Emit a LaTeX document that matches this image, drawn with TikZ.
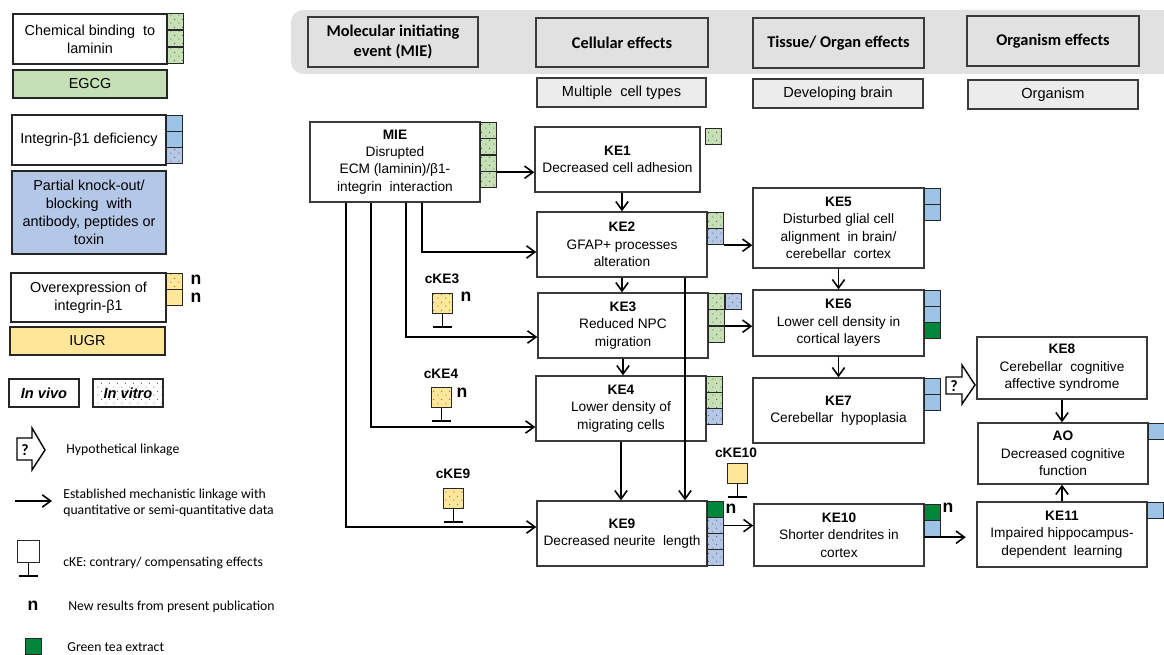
\documentclass[tikz,border=0pt]{standalone}
\usepackage{fontspec}
\setmainfont{Liberation Sans}
\newfontfamily\calib{Carlito}
\usetikzlibrary{arrows.meta,patterns.meta,fit}
\definecolor{lgreen}{HTML}{C5E0B4}
\definecolor{lblue}{HTML}{9DC3E6}
\definecolor{pblue}{HTML}{B4C7E7}
\definecolor{lyellow}{HTML}{FFE699}
\definecolor{dgreen}{HTML}{00873C}
\definecolor{bandgray}{HTML}{E1E1E1}
\definecolor{subgray}{HTML}{ECECEC}
\definecolor{edge}{HTML}{3A3A3A}

\tikzdeclarepattern{
  name=sparsedots,
  type=uncolored,
  bounding box={(0pt,0pt) and (4.6pt,4.6pt)},
  tile size={(4.6pt,4.6pt)},
  code={\fill (1.2pt,1.2pt) circle (0.32pt); \fill (3.5pt,3.5pt) circle (0.32pt);}
}

\tikzset{
  boxtxt/.style={inner sep=0pt, align=center, font=\fontsize{7.8}{9.9}\selectfont},
  box/.style={draw=edge, line width=0.8pt, fill=white, inner sep=0pt},
  legtxtc/.style={inner sep=0pt, align=center, font=\fontsize{8.2}{10.2}\selectfont},
  legbox/.style={draw=black!85, line width=1pt, fill=white, inner sep=0pt},
  hdrtxt/.style={inner sep=0pt, align=center, font=\calib\bfseries\fontsize{9.3}{11.4}\selectfont},
  hdr/.style={draw=edge, line width=0.8pt, fill=bandgray, inner sep=0pt},
  subtxt/.style={inner sep=0pt, align=center, font=\fontsize{8.3}{10}\selectfont},
  subhdr/.style={draw=edge, line width=0.8pt, fill=subgray, inner sep=0pt},
  sqbase/.style={draw=black!85, line width=0.7pt, minimum size=0.32cm, inner sep=0pt, anchor=north west},
  dotted fill/.style={postaction={pattern=sparsedots, pattern color=black!75}},
  sqG/.style={fill=lgreen, dotted fill},
  sqB/.style={fill=lblue},
  sqBd/.style={fill=pblue, dotted fill},
  sqY/.style={fill=lyellow},
  sqYd/.style={fill=lyellow, dotted fill},
  sqDG/.style={fill=dgreen},
  ckesq/.style={draw=black!85, line width=0.8pt, minimum size=0.4cm, inner sep=0pt, anchor=north west},
  stem/.style={line width=0.9pt, black},
  ckelab/.style={font=\bfseries\fontsize{7.8}{9}\selectfont, inner sep=0pt},
  newmark/.style={font=\bfseries\fontsize{10}{12}\selectfont, inner sep=0pt},
  arr/.style={-{Straight Barb[length=4.8pt,width=7pt]}, line width=0.9pt},
  legtxt/.style={font=\calib\fontsize{7.8}{9.4}\selectfont, anchor=west, inner sep=0pt, align=left},
}

\newcommand\sqr[4]{\node[sqbase,#4] (#1) at (#2,#3) {};}
\newcommand\cke[4]{%
  \node[ckesq,#4] (#1) at (#2,#3) {};
  \coordinate (#1-b) at ([yshift=-0.25cm]#1.south);
  \draw[stem] (#1.south) -- (#1-b);
  \draw[stem] ([xshift=-0.19cm]#1-b) -- ([xshift=0.19cm]#1-b);
}
% box with centred text: style, name, corner1, corner2, text style, text
\newcommand\tbox[6]{%
  \node[#1, fit={#3 #4}] (#2) {};
  \node[#5] (#2-t) at (#2.center) {#6};
}

\begin{document}
\begin{tikzpicture}[x=0.02cm,y=-0.02cm]
\useasboundingbox (0,0) rectangle (1164,655);

% ---------------- Legend ----------------
\tbox{legbox}{lg1}{(13,14)}{(167,64)}{legtxtc}{Chemical binding\ \ to\\laminin}
\sqr{lg1-s1}{167}{13}{sqG}\sqr{lg1-s2}{167}{30}{sqG}\sqr{lg1-s3}{167}{47}{sqG}
\tbox{legbox,fill=lgreen}{lg2}{(13,70)}{(167,98)}{legtxtc}{EGCG}

\tbox{legbox}{lg3}{(12,115)}{(166,165)}{legtxtc}{Integrin-β1 deficiency}
\sqr{lg3-s1}{166}{115}{sqB}\sqr{lg3-s2}{166}{131}{sqB}\sqr{lg3-s3}{166}{147}{sqBd}
\tbox{legbox,fill=pblue}{lg4}{(12,171)}{(166,254)}{legtxtc}{Partial knock-out/\\blocking\ \ with\\antibody, peptides or\\toxin}

\tbox{legbox}{lg5}{(11,273)}{(166,322)}{legtxtc}{Overexpression of\\integrin-β1}
\sqr{lg5-s1}{166}{273}{sqYd}\sqr{lg5-s2}{166}{289}{sqY}
\node[newmark] (lg5-n1) at (196,280) {n};
\node[newmark] (lg5-n2) at (196,298) {n};
\tbox{legbox,fill=lyellow}{lg6}{(10,327)}{(165,355)}{legtxtc}{IUGR}

\tbox{legbox,line width=0.9pt}{vivo}{(9,379)}{(79,407)}{legtxtc,font=\bfseries\itshape\fontsize{8.3}{10}\selectfont}{In vivo}
\tbox{legbox,line width=0.9pt,dotted fill}{vitro}{(93,379)}{(163,407)}{legtxtc,font=\bfseries\itshape\fontsize{8.3}{10}\selectfont}{In vitro}

% hypothetical linkage symbol
\draw[line width=0.8pt, fill=white] (17,438) -- (32,438) -- (32,428) -- (45,450) -- (32,470) -- (32,460) -- (17,460) -- cycle;
\node[font=\calib\bfseries\fontsize{9}{10}\selectfont, inner sep=0pt] (lgq) at (25,450) {?};
\node[legtxt] (t1) at (66,450) {Hypothetical linkage};

\coordinate (la1) at (15,501);
\coordinate (la2) at (52,501);
\draw[arr] (la1) -- (la2);
\node[legtxt] (t2) at (63,503) {Established mechanistic linkage with\\quantitative or semi-quantitative data};

\cke{lgc}{17}{540}{fill=white, minimum size=0.44cm}
\node[legtxt] (t3) at (63,563) {cKE: contrary/ compensating effects};

\node[newmark] (lgn) at (33,606) {n};
\node[legtxt] (t4) at (68,607) {New results from present publication};

\sqr{lgg}{25}{638}{sqDG}
\node[legtxt] (t5) at (67,647) {Green tea extract};

% ---------------- Header ----------------
\fill[bandgray, rounded corners=7pt] (291,10) rectangle (1190,74);
\tbox{hdr}{h1}{(308,17)}{(478,67)}{hdrtxt}{Molecular initiating\\event (MIE)}
\tbox{hdr}{h2}{(536,18)}{(708,67)}{hdrtxt}{Cellular effects}
\tbox{hdr}{h3}{(753,18)}{(924,68)}{hdrtxt}{Tissue/ Organ effects}
\tbox{hdr}{h4}{(967,16)}{(1139,66)}{hdrtxt}{Organism effects}
\tbox{subhdr}{s2}{(537,78)}{(706,107)}{subtxt}{Multiple\ \ cell types}
\tbox{subhdr}{s3}{(753,79)}{(923,108)}{subtxt}{Developing brain}
\tbox{subhdr}{s4}{(968,80)}{(1138,109)}{subtxt}{Organism}

% ---------------- Main boxes ----------------
\tbox{box}{mie}{(310,122)}{(480,202)}{boxtxt}{\textbf{MIE}\\Disrupted\\ECM (laminin)/β1-\\integrin\ \ interaction}
\tbox{box}{ke1}{(535,127)}{(700,192)}{boxtxt}{\textbf{KE1}\\Decreased cell adhesion}
\tbox{box}{ke2}{(537,212)}{(707,277)}{boxtxt}{\textbf{KE2}\\GFAP+ processes\\alteration}
\tbox{box}{ke3}{(538,293)}{(708,358)}{boxtxt}{\textbf{KE3}\\Reduced NPC\\migration}
\tbox{box}{ke4}{(536,376)}{(706,441)}{boxtxt}{\textbf{KE4}\\Lower density of\\migrating cells}
\tbox{box}{ke9}{(537,501)}{(707,566)}{boxtxt}{\textbf{KE9}\\Decreased neurite\ \ length}
\tbox{box}{ke5}{(753,188)}{(924,268)}{boxtxt}{\textbf{KE5}\\Disturbed glial cell\\alignment\ \ in brain/\\cerebellar\ \ cortex}
\tbox{box}{ke6}{(753,290)}{(924,356)}{boxtxt}{\textbf{KE6}\\Lower cell density in\\cortical layers}
\tbox{box}{ke7}{(753,378)}{(924,443)}{boxtxt}{\textbf{KE7}\\Cerebellar\ \ hypoplasia}
\tbox{box}{ke10}{(754,504)}{(924,566)}{boxtxt}{\textbf{KE10}\\Shorter dendrites in\\cortex}
\tbox{box}{ke8}{(977,337)}{(1147,399)}{boxtxt}{\textbf{KE8}\\Cerebellar\ \ cognitive\\affective syndrome}
\tbox{box}{ao}{(978,423)}{(1148,484)}{boxtxt}{\textbf{AO}\\Decreased cognitive\\function}
\tbox{box}{ke11}{(977,502)}{(1147,567)}{boxtxt}{\textbf{KE11}\\Impaired hippocampus-\\dependent\ \ learning}

% ---------------- Evidence squares ----------------
\sqr{mie-s1}{480}{122}{sqG}\sqr{mie-s2}{480}{138}{sqG}\sqr{mie-s3}{480}{155}{sqG}\sqr{mie-s4}{480}{171}{sqG}
\sqr{ke1-s1}{705}{128}{sqG}
\sqr{ke2-s1}{707}{212}{sqG}\sqr{ke2-s2}{707}{228}{sqBd}
\sqr{ke3-s1}{708}{293}{sqG}\sqr{ke3-s2}{708}{309}{sqG}\sqr{ke3-s3}{708}{326}{sqG}\sqr{ke3-s4}{725}{293}{sqBd}
\sqr{ke4-s1}{706}{376}{sqG}\sqr{ke4-s2}{706}{392}{sqG}\sqr{ke4-s3}{706}{408}{sqBd}
\sqr{ke9-s1}{707}{501}{sqDG}\sqr{ke9-s2}{707}{517}{sqBd}\sqr{ke9-s3}{707}{533}{sqBd}\sqr{ke9-s4}{707}{549}{sqBd}
\sqr{ke5-s1}{924}{188}{sqB}\sqr{ke5-s2}{924}{204}{sqB}
\sqr{ke6-s1}{924}{290}{sqB}\sqr{ke6-s2}{924}{306}{sqB}\sqr{ke6-s3}{924}{322}{sqDG}
\sqr{ke7-s1}{924}{378}{sqB}\sqr{ke7-s2}{924}{394}{sqB}
\sqr{ke10-s1}{924}{504}{sqDG}\sqr{ke10-s2}{924}{520}{sqB}
\sqr{ao-s1}{1148}{423}{sqB}
\sqr{ke11-s1}{1147}{502}{sqB}
\node[newmark] (ke9-n) at (731,509) {n};
\node[newmark] (ke10-n) at (948,508) {n};

% ---------------- cKE symbols ----------------
\cke{cke3}{432}{293}{sqYd}
\node[ckelab] (cke3-l) at (442,279) {cKE3};
\node[newmark] (cke3-n) at (466,297) {n};
\cke{cke4}{431}{387}{sqYd}
\node[ckelab] (cke4-l) at (441,374) {cKE4};
\node[newmark] (cke4-n) at (462,393) {n};
\cke{cke9}{443}{488}{sqYd}
\node[ckelab] (cke9-l) at (453,474) {cKE9};
\cke{cke10}{727}{463}{sqY}
\node[ckelab] (cke10-l) at (736,453) {cKE10};

% ---------------- Connectors ----------------
\coordinate (j2) at (422,252);
\coordinate (j3) at (406,337);
\coordinate (j4) at (371,427);
\coordinate (j9) at (346,527);
\coordinate (long) at (685,0);

\draw[arr] (mie-s3.south east) -- (mie-s3.south east -| ke1.west);
\draw[arr] (mie.south -| j2) |- (ke2.west |- j2);
\draw[arr] (mie.south -| j3) |- (ke3.west |- j3);
\draw[arr] (mie.south -| j4) |- (ke4.west |- j4);
\draw[arr] (mie.south -| j9) |- (ke9.west |- j9);

\draw[arr] (ke1.south -| ke2.north) -- (ke2.north);
\draw[arr] (ke2.south) -- (ke2.south |- ke3.north);
\draw[arr] (ke3.south) -- (ke3.south |- ke4.north);
\draw[arr] (ke4.south) -- (ke4.south |- ke9.north);
\draw[arr] (ke2.south -| long) -- (ke9.north -| long);

\draw[arr] (ke2-s2.south east) -- (ke2-s2.south east -| ke5.west);
\draw[arr] (ke3-s2.south east) -- (ke3-s2.south east -| ke6.west);
\draw[arr] (ke5.south) -- (ke5.south |- ke6.north);
\draw[arr] (ke6.south) -- (ke6.south |- ke7.north);
\draw[arr] (ke9-s2.east) -- (ke9-s2.east -| ke10.west);
\draw[arr, shorten >=6pt] (ke10-s2.south west) -- (ke10-s2.south west -| ke11.west);
\draw[arr] (ke8.south) -- (ke8.south |- ao.north);
\draw[arr] (ke11.north) -- (ke11.north |- ao.south);

% hypothetical link KE7 -> KE8
\draw[line width=0.8pt, fill=white] (946,377) -- (962,377) -- (962,365) -- (975,385) -- (962,404) -- (962,394) -- (946,394) -- cycle;
\node[font=\calib\bfseries\fontsize{9}{10}\selectfont, inner sep=0pt] (hq) at (954,386) {?};

\end{tikzpicture}
\end{document}
